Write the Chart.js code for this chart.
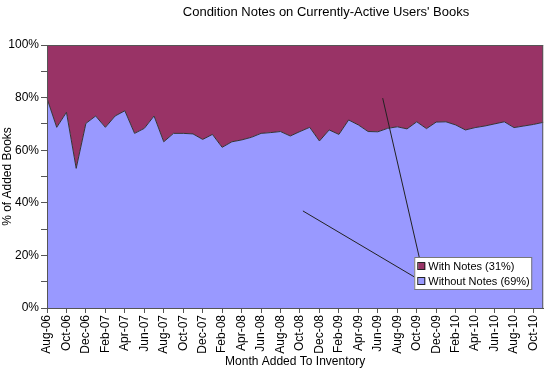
<!DOCTYPE html>
<html>
<head>
<meta charset="utf-8">
<script src="https://cdn.jsdelivr.net/npm/chart.js@4/dist/chart.umd.min.js"></script>
<style>
  body { margin: 0; background: #fff; }
  #wrap { width: 550px; height: 371px; position: relative; }
</style>
</head>
<body>
<div id="wrap"><canvas id="notesChart"></canvas></div>
<script>
const months = [
    "Aug-06", "Sep-06", "Oct-06", "Nov-06", "Dec-06",
    "Jan-07", "Feb-07", "Mar-07", "Apr-07", "May-07", "Jun-07", "Jul-07", "Aug-07", "Sep-07", "Oct-07", "Nov-07", "Dec-07",
    "Jan-08", "Feb-08", "Mar-08", "Apr-08", "May-08", "Jun-08", "Jul-08", "Aug-08", "Sep-08", "Oct-08", "Nov-08", "Dec-08",
    "Jan-09", "Feb-09", "Mar-09", "Apr-09", "May-09", "Jun-09", "Jul-09", "Aug-09", "Sep-09", "Oct-09", "Nov-09", "Dec-09",
    "Jan-10", "Feb-10", "Mar-10", "Apr-10", "May-10", "Jun-10", "Jul-10", "Aug-10", "Sep-10", "Oct-10", "Nov-10"
];

// % of added books
const withoutNotes = [
    79.7, 68.7, 74.4, 53.1, 70.2, 73.0, 68.7, 73.0, 75.0, 66.4, 68.3, 73.0, 63.2,
    66.4, 66.4, 66.2, 64.1, 66.0, 61.1, 63.2, 63.9, 64.9, 66.4, 66.7, 67.1, 65.4,
    67.1, 68.7, 63.5, 67.7, 66.0, 71.5, 69.6, 67.1, 67.0, 68.3, 68.9, 68.1, 70.8,
    68.2, 70.7, 70.8, 69.6, 67.7, 68.6, 69.2, 70.0, 70.8, 68.6, 69.2, 69.8, 70.6
];
const withNotes = [
    20.3, 31.3, 25.6, 46.9, 29.8, 27.0, 31.3, 27.0, 25.0, 33.6, 31.7, 27.0, 36.8,
    33.6, 33.6, 33.8, 35.9, 34.0, 38.9, 36.8, 36.1, 35.1, 33.6, 33.3, 32.9, 34.6,
    32.9, 31.3, 36.5, 32.3, 34.0, 28.5, 30.4, 32.9, 33.0, 31.7, 31.1, 31.9, 29.2,
    31.8, 29.3, 29.2, 30.4, 32.3, 31.4, 30.8, 30.0, 29.2, 31.4, 30.8, 30.2, 29.4
];

const seriesNames = ["Without Notes (69%)", "With Notes (31%)"];
const yTicks = [0, 20, 40, 60, 80, 100];

const FONT = "'Liberation Sans', Arial, sans-serif";
const LAVENDER = "#9999ff";
const MAROON = "#993366";

// frame, title, legend box and the two leader lines
const extras = {
    id: "extras",
    afterDatasetsDraw(chart) {
        const { ctx, chartArea: a, scales: { x, y } } = chart;
        ctx.save();
        ctx.strokeStyle = "#555";
        ctx.lineWidth = 1;
        ctx.strokeRect(a.left + 0.5, a.top + 0.5, a.right - a.left - 1, a.bottom - a.top);

        // title
        ctx.fillStyle = "#000";
        ctx.font = "13px " + FONT;
        ctx.textAlign = "center";
        ctx.textBaseline = "middle";
        ctx.fillText("Condition Notes on Currently-Active Users' Books", 326, 12);

        // legend box
        const lx = a.right - 129, ly = a.top + 212, lw = 117, lh = 32;
        const m1 = { x: lx + 7, y: ly + 9 };
        const m2 = { x: lx + 7, y: ly + 24 };

        ctx.strokeStyle = "#222";
        ctx.beginPath();
        ctx.moveTo(x.getPixelForValue(34.5), y.getPixelForValue(79.8));
        ctx.lineTo(m1.x, m1.y);
        ctx.moveTo(x.getPixelForValue(26.3), y.getPixelForValue(36.9));
        ctx.lineTo(m2.x, m2.y);
        ctx.stroke();

        ctx.fillStyle = "#fff";
        ctx.fillRect(lx, ly, lw, lh);
        ctx.strokeStyle = "#777";
        ctx.strokeRect(lx + 0.5, ly + 0.5, lw, lh);

        const rows = [
            { m: m1, color: MAROON, text: seriesNames[1] },
            { m: m2, color: LAVENDER, text: seriesNames[0] }
        ];
        ctx.font = "11px " + FONT;
        ctx.textAlign = "left";
        rows.forEach(r => {
            ctx.fillStyle = r.color;
            ctx.fillRect(r.m.x - 3, r.m.y - 3, 7, 7);
            ctx.strokeStyle = "#222";
            ctx.strokeRect(r.m.x - 3.5, r.m.y - 3.5, 7, 7);
            ctx.fillStyle = "#000";
            ctx.fillText(r.text, lx + 14, r.m.y + 1);
        });
        ctx.restore();
    }
};

new Chart(document.getElementById("notesChart"), {
    type: "line",
    data: {
        labels: months,
        datasets: [
            {
                label: seriesNames[0],
                data: withoutNotes,
                backgroundColor: LAVENDER,
                borderColor: "#333",
                borderWidth: 1,
                fill: "origin",
                pointRadius: 0,
                tension: 0
            },
            {
                label: seriesNames[1],
                data: withNotes,
                backgroundColor: MAROON,
                borderColor: "#333",
                borderWidth: 1,
                fill: "-1",
                pointRadius: 0,
                tension: 0
            }
        ]
    },
    options: {
        responsive: true,
        maintainAspectRatio: false,
        animation: false,
        layout: { padding: { top: 45, right: 4, left: 0, bottom: 0 } },
        plugins: {
            legend: { display: false },
            title: { display: false },
            tooltip: { enabled: false }
        },
        scales: {
            x: {
                offset: false,
                afterFit: s => { s.height = 63; },
                grid: { drawOnChartArea: false, tickLength: 5, color: "#555" },
                border: { display: true, color: "#555" },
                ticks: {
                    autoSkip: false,
                    minRotation: 90,
                    maxRotation: 90,
                    padding: 2,
                    color: "#000",
                    font: { family: FONT, size: 12 },
                    callback: (v, i) => (i % 2 === 0 ? months[i] : null)
                },
                title: {
                    display: true,
                    text: "Month Added To Inventory",
                    color: "#000",
                    font: { family: FONT, size: 12 },
                    padding: { top: 0, bottom: 2 }
                }
            },
            y: {
                stacked: true,
                min: 0,
                max: 100,
                afterFit: s => { s.width = 47; },
                grid: { drawOnChartArea: false, tickLength: 6, color: "#555" },
                border: { display: true, color: "#555" },
                ticks: {
                    stepSize: 10,
                    padding: 2,
                    color: "#000",
                    font: { family: FONT, size: 12 },
                    callback: v => (yTicks.includes(v) ? v + "%" : "")
                },
                title: {
                    display: true,
                    text: "% of Added Books",
                    color: "#000",
                    font: { family: FONT, size: 12 },
                    padding: { top: 0, bottom: 0 }
                }
            }
        }
    },
    plugins: [extras]
});
</script>
</body>
</html>
